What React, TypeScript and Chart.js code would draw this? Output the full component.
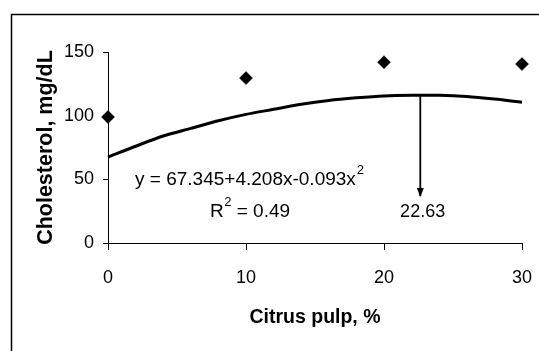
import { useEffect, useRef } from "react";
import { Chart, registerables } from "chart.js";

Chart.register(...registerables);

// ---- data ----
const xTickValues = [0, 10, 20, 30];
const yTickValues = [0, 50, 100, 150];

const pulpLevels = [0, 10, 20, 30];
const cholesterol = [99, 129.5, 142, 140.5];

const fitX = [0, 2, 4, 6, 8, 10, 12, 14, 16, 18, 20, 22, 24, 26, 28, 30];
const fitY = [67.5, 76, 84, 90, 96, 101, 105, 109, 112, 114, 115.5, 116, 116, 115, 113, 110.5];

const arrowX = [22.63, 22.63];
const arrowY = [115.8, 37];

const equationText = "y = 67.345+4.208x-0.093x";
const rSquaredText = " = 0.49";
const optimumText = "22.63";
const xTitle = "Citrus pulp, %";
const yTitle = "Cholesterol, mg/dL";

// label anchors in data units
const equationAnchor = { x: 1.96, y: 49.5 };
const rSquaredAnchor = { x: 7.39, y: 24.3 };
const optimumAnchor = { x: 22.8, y: 24.3 };

const SANS = "'Liberation Sans', Arial, sans-serif";

const notesPlugin = {
  id: "notesPlugin",
  beforeDraw(chart: any) {
    const { ctx, width, height } = chart;
    ctx.save();
    ctx.fillStyle = "#fff";
    ctx.fillRect(0, 0, width, height);
    ctx.strokeStyle = "#000";
    ctx.lineWidth = 1.5;
    ctx.beginPath();
    ctx.moveTo(11.5, height);
    ctx.lineTo(11.5, 14.5);
    ctx.lineTo(width, 14.5);
    ctx.stroke();
    ctx.restore();
  },
  afterDatasetsDraw(chart: any) {
    const { ctx } = chart;
    const xs = chart.scales.x;
    const ys = chart.scales.y;
    ctx.save();
    // arrow head
    const meta = chart.getDatasetMeta(2);
    const tip = meta.data[1];
    ctx.fillStyle = "#000";
    ctx.beginPath();
    ctx.moveTo(tip.x, tip.y + 1);
    ctx.lineTo(tip.x - 3.5, tip.y - 8);
    ctx.lineTo(tip.x + 3.5, tip.y - 8);
    ctx.closePath();
    ctx.fill();

    ctx.textBaseline = "middle";
    ctx.textAlign = "left";
    // equation
    let px = xs.getPixelForValue(equationAnchor.x);
    let py = ys.getPixelForValue(equationAnchor.y);
    ctx.font = `19px ${SANS}`;
    ctx.fillText(equationText, px, py);
    let w = ctx.measureText(equationText).width;
    ctx.font = `13px ${SANS}`;
    ctx.fillText("2", px + w + 1, py - 9.5);

    // R squared
    px = xs.getPixelForValue(rSquaredAnchor.x);
    py = ys.getPixelForValue(rSquaredAnchor.y);
    ctx.font = `19px ${SANS}`;
    ctx.fillText("R", px, py);
    w = ctx.measureText("R").width;
    ctx.font = `13px ${SANS}`;
    ctx.fillText("2", px + w + 0.5, py - 10);
    const sw = ctx.measureText("2").width;
    ctx.font = `19px ${SANS}`;
    ctx.fillText(rSquaredText, px + w + sw + 0.5, py);

    // optimum
    px = xs.getPixelForValue(optimumAnchor.x);
    py = ys.getPixelForValue(optimumAnchor.y);
    ctx.textAlign = "center";
    ctx.font = `18px ${SANS}`;
    ctx.fillText(optimumText, px, py);
    ctx.restore();
  },
};

export default function App() {
  const ref = useRef<HTMLCanvasElement | null>(null);
  useEffect(() => {
    if (!ref.current) return;
    const chart = new Chart(ref.current, {
      type: "scatter",
      data: {
        datasets: [
          {
            data: fitX.map((x, i) => ({ x, y: fitY[i] })),
            showLine: true,
            borderColor: "#000",
            borderWidth: 3,
            pointRadius: 0,
            tension: 0.3,
            clip: false,
          },
          {
            data: pulpLevels.map((x, i) => ({ x, y: cholesterol[i] })),
            pointStyle: "rectRot",
            pointRadius: 6.5,
            backgroundColor: "#000",
            borderColor: "#000",
            borderWidth: 0.5,
            clip: false,
          },
          {
            data: arrowX.map((x, i) => ({ x, y: arrowY[i] })),
            showLine: true,
            borderColor: "#000",
            borderWidth: 1.8,
            pointRadius: 0,
          },
        ],
      } as any,
      options: {
        animation: false,
        responsive: false,
        devicePixelRatio: 1,
        layout: { padding: { left: 0, top: 52, right: 17, bottom: 0 } },
        plugins: { legend: { display: false }, tooltip: { enabled: false } },
        scales: {
          x: {
            type: "linear",
            min: 0,
            max: 30,
            afterBuildTicks: (s: any) => {
              s.ticks = xTickValues.map((v) => ({ value: v }));
            },
            afterFit: (s: any) => {
              s.height = 108;
              s.paddingLeft = 0;
              s.paddingRight = 0;
            },
            grid: { drawOnChartArea: false, color: "#000", tickLength: 7, lineWidth: 1 },
            border: { color: "#000", width: 1 },
            ticks: { color: "#000", font: { family: SANS, size: 18 }, padding: 17, maxRotation: 0 },
            title: {
              display: true,
              text: xTitle,
              color: "#000",
              font: { family: SANS, size: 19.5, weight: "bold" },
              padding: { top: 0, bottom: 22 },
            },
          },
          y: {
            type: "linear",
            min: 0,
            max: 150,
            afterBuildTicks: (s: any) => {
              s.ticks = yTickValues.map((v) => ({ value: v }));
            },
            afterFit: (s: any) => {
              s.width = 108;
              s.paddingTop = 0;
              s.paddingBottom = 0;
            },
            grid: { drawOnChartArea: false, color: "#000", tickLength: 5, lineWidth: 1 },
            border: { color: "#000", width: 1 },
            ticks: { color: "#000", font: { family: SANS, size: 18 }, padding: 9 },
            title: {
              display: true,
              text: yTitle,
              color: "#000",
              font: { family: SANS, size: 21.5, weight: "bold" },
              padding: { top: 33, bottom: 0 },
            },
          },
        },
      } as any,
      plugins: [notesPlugin],
    });
    return () => chart.destroy();
  }, []);
  return (
    <div style={{ position: "absolute", left: 0, top: 0, width: 539, height: 351 }}>
      <canvas ref={ref} width={539} height={351} style={{ display: "block", width: 539, height: 351 }} />
    </div>
  );
}
